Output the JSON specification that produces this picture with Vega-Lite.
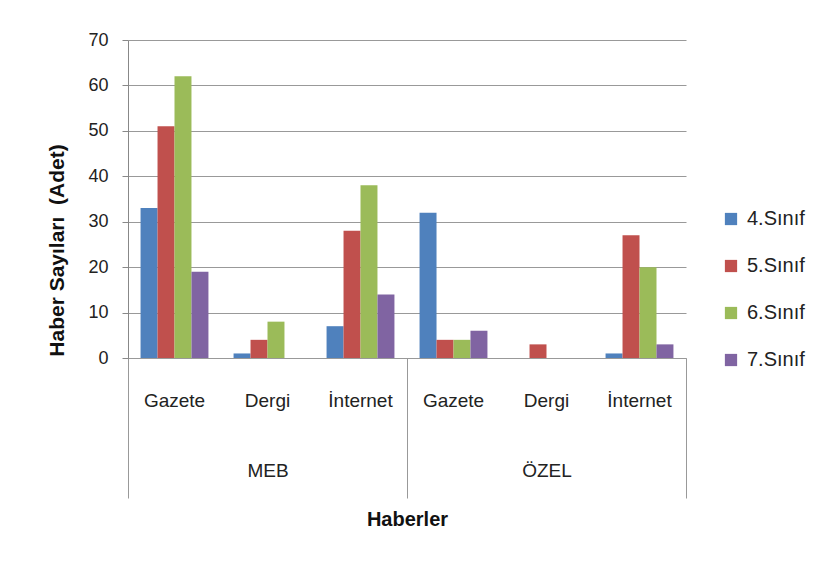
{
  "$schema": "https://vega.github.io/schema/vega-lite/v6.json",
  "width": 558,
  "height": 318,
  "autosize": "none",
  "padding": {"left": 128, "top": 40, "right": 130, "bottom": 214},
  "background": "white",
  "config": {
    "font": "Liberation Sans Narrow, Liberation Sans, sans-serif",
    "view": {"stroke": null},
    "axis": {"labelFont": "Liberation Sans Narrow, Liberation Sans, sans-serif", "labelColor": "#222", "titleColor": "#111"}
  },
  "data": {
    "values": [
      {"key": "MEB|Gazete", "group": "MEB", "type": "Gazete", "sinif": "4.Sınıf", "value": 33},
      {"key": "MEB|Gazete", "group": "MEB", "type": "Gazete", "sinif": "5.Sınıf", "value": 51},
      {"key": "MEB|Gazete", "group": "MEB", "type": "Gazete", "sinif": "6.Sınıf", "value": 62},
      {"key": "MEB|Gazete", "group": "MEB", "type": "Gazete", "sinif": "7.Sınıf", "value": 19},
      {"key": "MEB|Dergi", "group": "MEB", "type": "Dergi", "sinif": "4.Sınıf", "value": 1},
      {"key": "MEB|Dergi", "group": "MEB", "type": "Dergi", "sinif": "5.Sınıf", "value": 4},
      {"key": "MEB|Dergi", "group": "MEB", "type": "Dergi", "sinif": "6.Sınıf", "value": 8},
      {"key": "MEB|Dergi", "group": "MEB", "type": "Dergi", "sinif": "7.Sınıf", "value": 0},
      {"key": "MEB|İnternet", "group": "MEB", "type": "İnternet", "sinif": "4.Sınıf", "value": 7},
      {"key": "MEB|İnternet", "group": "MEB", "type": "İnternet", "sinif": "5.Sınıf", "value": 28},
      {"key": "MEB|İnternet", "group": "MEB", "type": "İnternet", "sinif": "6.Sınıf", "value": 38},
      {"key": "MEB|İnternet", "group": "MEB", "type": "İnternet", "sinif": "7.Sınıf", "value": 14},
      {"key": "ÖZEL|Gazete", "group": "ÖZEL", "type": "Gazete", "sinif": "4.Sınıf", "value": 32},
      {"key": "ÖZEL|Gazete", "group": "ÖZEL", "type": "Gazete", "sinif": "5.Sınıf", "value": 4},
      {"key": "ÖZEL|Gazete", "group": "ÖZEL", "type": "Gazete", "sinif": "6.Sınıf", "value": 4},
      {"key": "ÖZEL|Gazete", "group": "ÖZEL", "type": "Gazete", "sinif": "7.Sınıf", "value": 6},
      {"key": "ÖZEL|Dergi", "group": "ÖZEL", "type": "Dergi", "sinif": "4.Sınıf", "value": 0},
      {"key": "ÖZEL|Dergi", "group": "ÖZEL", "type": "Dergi", "sinif": "5.Sınıf", "value": 3},
      {"key": "ÖZEL|Dergi", "group": "ÖZEL", "type": "Dergi", "sinif": "6.Sınıf", "value": 0},
      {"key": "ÖZEL|Dergi", "group": "ÖZEL", "type": "Dergi", "sinif": "7.Sınıf", "value": 0},
      {"key": "ÖZEL|İnternet", "group": "ÖZEL", "type": "İnternet", "sinif": "4.Sınıf", "value": 1},
      {"key": "ÖZEL|İnternet", "group": "ÖZEL", "type": "İnternet", "sinif": "5.Sınıf", "value": 27},
      {"key": "ÖZEL|İnternet", "group": "ÖZEL", "type": "İnternet", "sinif": "6.Sınıf", "value": 20},
      {"key": "ÖZEL|İnternet", "group": "ÖZEL", "type": "İnternet", "sinif": "7.Sınıf", "value": 3}
    ]
  },
  "layer": [
    {
      "mark": {"type": "bar"},
      "encoding": {
        "x": {
          "field": "key", "type": "nominal", "sort": null,
          "scale": {"paddingInner": 0.27, "paddingOuter": 0.135},
          "axis": {
            "title": null, "labelAngle": 0, "ticks": false, "tickSize": 0,
            "domain": true, "domainColor": "#999", "domainWidth": 1,
            "labelExpr": "split(datum.label, '|')[1]",
            "labelFontSize": 19, "labelPadding": 33, "labelBaseline": "top", "grid": false
          }
        },
        "xOffset": {"field": "sinif", "type": "nominal"},
        "y": {
          "field": "value", "type": "quantitative",
          "scale": {"domain": [0, 70], "nice": false},
          "axis": {
            "title": "Haber Sayıları\u00a0 (Adet)", "titleFontSize": 21, "titleFontWeight": "bold",
            "titleFont": "Liberation Sans Narrow, Liberation Sans, sans-serif",
            "titleY": 210, "titleAlign": "center",
            "values": [0, 10, 20, 30, 40, 50, 60, 70],
            "labelFontSize": 18, "labelPadding": 14, "tickSize": 6, "tickColor": "#888",
            "domainColor": "#888", "gridColor": "#999", "gridWidth": 1, "titlePadding": 20
          }
        },
        "color": {
          "field": "sinif", "type": "nominal",
          "scale": {"domain": ["4.Sınıf", "5.Sınıf", "6.Sınıf", "7.Sınıf"], "range": ["#4F81BD", "#C0504D", "#9BBB59", "#8064A2"]},
          "legend": {
            "title": null, "orient": "none", "legendX": 593, "legendY": 169,
            "symbolType": "square", "symbolSize": 150, "labelFontSize": 20, "labelOffset": 6,
            "rowPadding": 27, "labelColor": "#222", "symbolStrokeWidth": 0
          }
        }
      }
    },
    {
      "mark": {"type": "point", "opacity": 0},
      "encoding": {
        "x": {
          "field": "group", "type": "nominal", "sort": null,
          "scale": {"paddingInner": 0, "paddingOuter": 0},
          "axis": {
            "orient": "bottom", "title": "Haberler", "titleFontSize": 20, "titleFontWeight": "bold",
            "titleFont": "Liberation Sans Narrow, Liberation Sans, sans-serif",
            "titlePadding": 11, "labelAngle": 0, "domain": false,
            "ticks": true, "tickSize": 140, "tickColor": "#999", "tickBand": "extent",
            "labelFontSize": 19, "labelPadding": -37, "labelBaseline": "top", "grid": false
          }
        },
        "y": {"datum": 0, "type": "quantitative"}
      }
    }
  ],
  "resolve": {"scale": {"x": "independent"}, "axis": {"x": "independent"}}
}
